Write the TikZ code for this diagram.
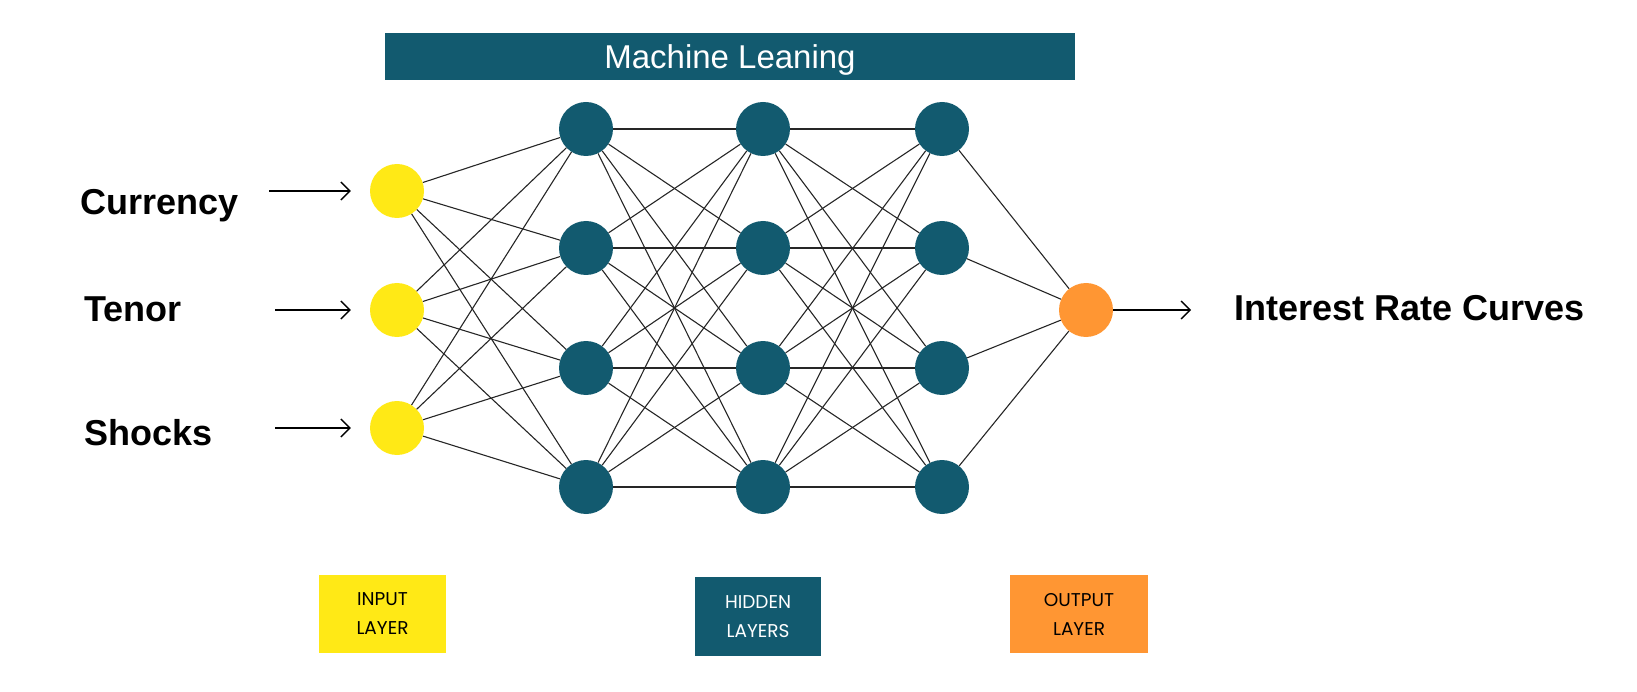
\documentclass[tikz,border=0pt]{standalone}
\usepackage{fontspec}
\setmainfont{Liberation Sans}
\newfontfamily\legfont{Poppins}
\usepackage{tikz}
\usetikzlibrary{arrows.meta,positioning}
\definecolor{mlteal}{RGB}{18,90,111}
\definecolor{mlyellow}{RGB}{255,233,22}
\definecolor{mlorange}{RGB}{255,150,51}

\begin{document}
\begin{tikzpicture}[x=1pt, y=-1pt, >={Straight Barb[length=9pt,width=18pt]},
  unit/.style={circle, minimum size=54pt, inner sep=0pt},
  link/.style={line width=1.1pt, black!85},
  feed/.style={line width=1.4pt, ->},
  lbl/.style={anchor=base west, inner sep=0pt, font=\fontsize{36}{40}\selectfont\bfseries},
  key/.style={minimum height=78pt, align=center, font=\legfont\fontsize{18.5}{29}\selectfont}]
  \useasboundingbox (0,0) rectangle (1637,692);
  \node[fill=mlteal, minimum width=690pt, minimum height=47pt, text=white, text depth=0pt,
        font=\fontsize{33}{36}\selectfont] (title) at (730,57) {Machine Leaning};
  % input layer
  \foreach \i/\y in {1/191,2/310,3/428}
    \node[unit, fill=mlyellow] (in\i) at (397,\y) {};
  % hidden layers
  \foreach \l/\x in {1/586,2/763,3/942}
    \foreach \i/\y in {1/129,2/248,3/368,4/487}
      \node[unit, fill=mlteal] (h\l\i) at (\x,\y) {};
  % output layer
  \node[unit, fill=mlorange] (out) at (1086,310) {};
  % connections
  \foreach \i in {1,2,3}
    \foreach \j in {1,...,4}
      \draw[link] (in\i) -- (h1\j);
  \foreach \l/\m in {1/2,2/3}
    \foreach \i in {1,...,4}
      \foreach \j in {1,...,4}
        \draw[link] (h\l\i) -- (h\m\j);
  \foreach \i in {1,...,4}
    \draw[link] (h3\i) -- (out);
  % inputs
  \node[lbl] (cur) at (80,215) {Currency};
  \node[lbl] (ten) at (84,322) {Tenor};
  \node[lbl] (sho) at (84,445) {Shocks};
  \coordinate (a1) at (269,191);
  \coordinate (a2) at (275,310);
  \coordinate (a3) at (275,428);
  \foreach \i in {1,2,3}
    \draw[feed, shorten >=19pt] (a\i) -- (in\i);
  % result
  \coordinate (r) at (1191,310);
  \draw[feed] (out) -- (r);
  \node[lbl] (res) at (1234,320) {Interest Rate Curves};
  % legend
  \node[key, fill=mlyellow, minimum width=127pt] (kin) at (382.5,614) {INPUT\\LAYER};
  \node[key, fill=mlteal, text=white, minimum width=126pt, minimum height=79pt] (khid) at (758,616.5) {HIDDEN\\LAYERS};
  \node[key, fill=mlorange, minimum width=138pt] (kout) at (1079,614) {OUTPUT\\LAYER};
\end{tikzpicture}
\end{document}
